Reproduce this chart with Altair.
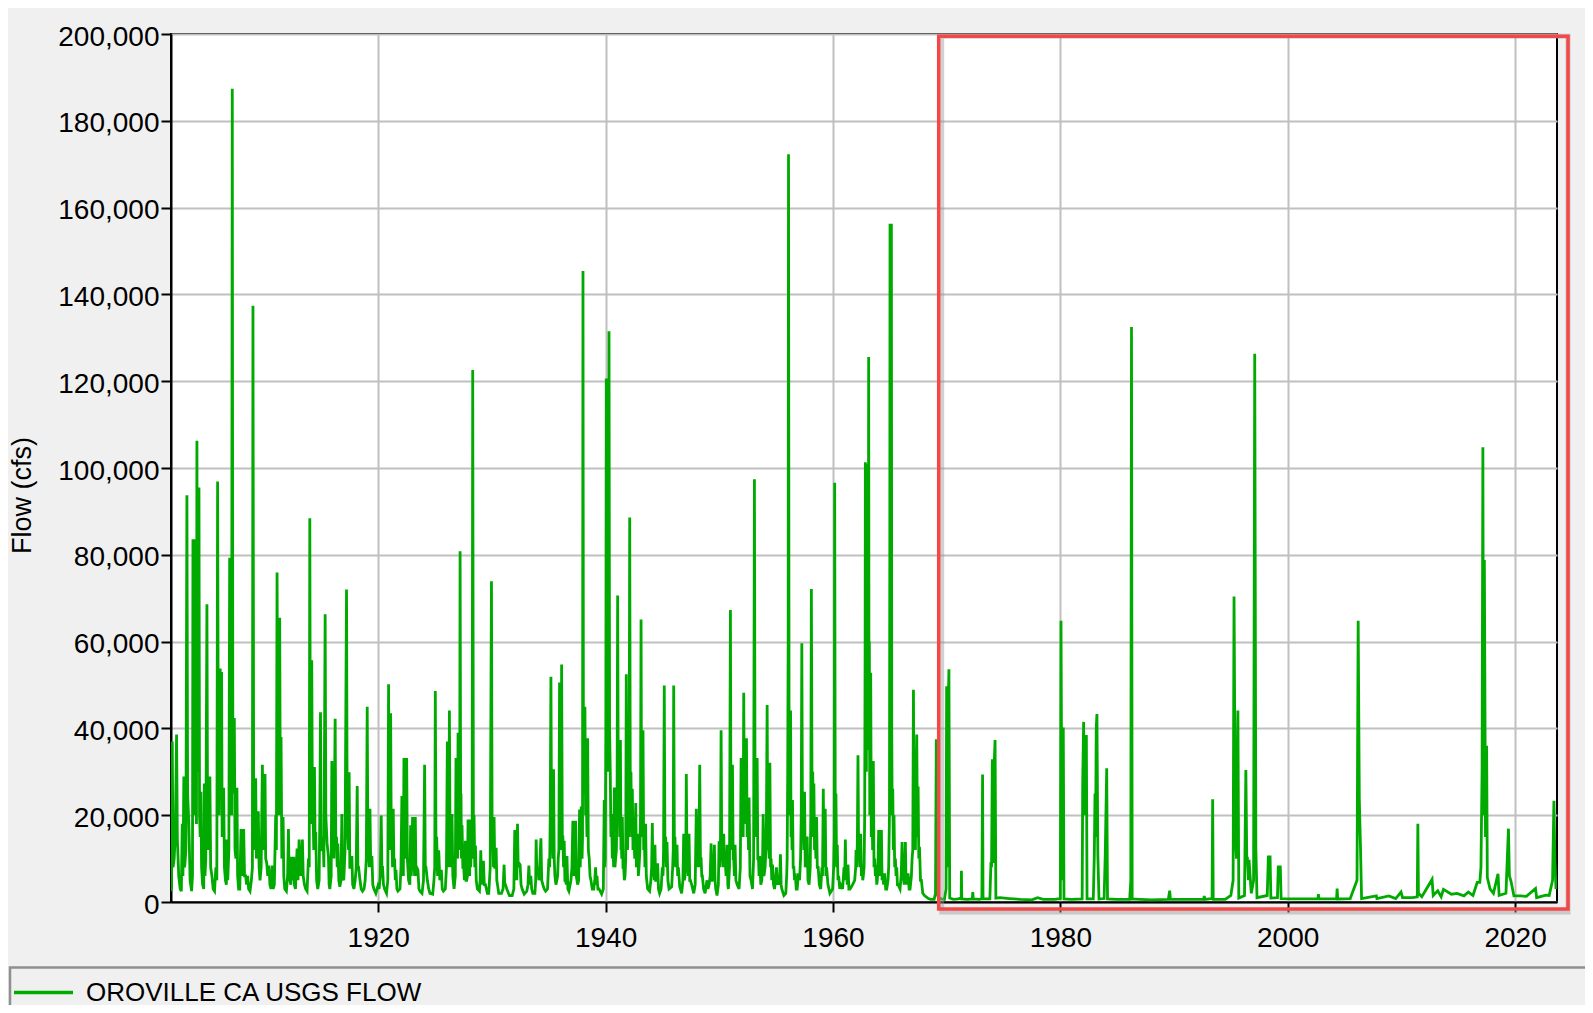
import altair as alt
import pandas as pd

SERIES = "OROVILLE CA USGS FLOW"
x_ticks = [1920, 1940, 1960, 1980, 2000, 2020]
y_ticks = [0, 20000, 40000, 60000, 80000, 100000, 120000, 140000, 160000, 180000, 200000]
x_domain = [1901.77, 2023.69]
y_domain = [0, 200000]
annot_x = [1969.30, 2024.66]
annot_y = [-1600, 199500]

pts_1902_1915 = [
    (1901.77, 2500), (1901.82, 3500), (1901.88, 37000), (1901.95, 8000), (1902.05, 10000), (1902.15, 16000),
    (1902.26, 38600), (1902.33, 14400), (1902.45, 6000), (1902.58, 3000), (1902.68, 2500), (1902.76, 18000),
    (1902.82, 6000), (1902.9, 28900), (1902.97, 8000), (1903.08, 12000), (1903.17, 93700), (1903.23, 25000),
    (1903.34, 18000), (1903.45, 5000), (1903.58, 2500), (1903.66, 6000), (1903.7, 83600), (1903.75, 30000),
    (1903.79, 45000), (1903.83, 20000), (1903.87, 83600), (1903.92, 25000), (1903.98, 50000), (1904.01, 18000),
    (1904.05, 106300), (1904.1, 40000), (1904.14, 55000), (1904.19, 30000), (1904.23, 95500), (1904.28, 20000),
    (1904.34, 15000), (1904.4, 25400), (1904.46, 8000), (1904.55, 4000), (1904.65, 3000), (1904.7, 27300),
    (1904.76, 6000), (1904.83, 10000), (1904.93, 68600), (1904.99, 15000), (1905.07, 12000), (1905.19, 28900),
    (1905.26, 8000), (1905.37, 6000), (1905.48, 3000), (1905.6, 2500), (1905.72, 8000), (1905.8, 5000),
    (1905.87, 96900), (1905.93, 30000), (1906.0, 20000), (1906.1, 53800), (1906.15, 25000), (1906.22, 53000),
    (1906.27, 15000), (1906.32, 18000), (1906.4, 26300), (1906.47, 8000), (1906.56, 5000), (1906.64, 4000),
    (1906.69, 14400), (1906.76, 5000), (1906.86, 12000), (1906.93, 79300), (1906.99, 30000), (1907.05, 40000),
    (1907.1, 20000), (1907.16, 187400), (1907.21, 30000), (1907.27, 25000), (1907.34, 42400), (1907.4, 12000),
    (1907.48, 10000), (1907.57, 26300), (1907.63, 6000), (1907.72, 3000), (1907.82, 3000), (1907.93, 16800),
    (1907.99, 8000), (1908.06, 6000), (1908.16, 16800), (1908.24, 6000), (1908.34, 6000), (1908.42, 4000),
    (1908.51, 6000), (1908.6, 3000), (1908.72, 2500), (1908.84, 5000), (1908.93, 8000), (1908.98, 137400),
    (1909.04, 25000), (1909.1, 20000), (1909.16, 12000), (1909.22, 28500), (1909.28, 10000), (1909.36, 12000),
    (1909.45, 20900), (1909.52, 8000), (1909.6, 5000), (1909.7, 8000), (1909.81, 31600), (1909.87, 15000),
    (1909.94, 12000), (1910.04, 29500), (1910.1, 10000), (1910.19, 9000), (1910.28, 6000), (1910.39, 8400),
    (1910.47, 4000), (1910.57, 3000), (1910.69, 8400), (1910.76, 3000), (1910.86, 4000), (1910.98, 20000),
    (1911.04, 12000), (1911.1, 75900), (1911.16, 30000), (1911.22, 35000), (1911.28, 20000), (1911.33, 65500),
    (1911.39, 20000), (1911.45, 38000), (1911.52, 10000), (1911.63, 19600), (1911.69, 6000), (1911.78, 3000),
    (1911.92, 2500), (1912.03, 6000), (1912.1, 16800), (1912.16, 6000), (1912.24, 5000), (1912.31, 4000),
    (1912.39, 10400), (1912.45, 5000), (1912.57, 10400), (1912.62, 4000), (1912.72, 3000), (1912.86, 12300),
    (1912.94, 5000), (1913.04, 14400), (1913.1, 8000), (1913.18, 6000), (1913.33, 14400), (1913.4, 6000),
    (1913.51, 4000), (1913.62, 3000), (1913.74, 2500), (1913.86, 10000), (1913.93, 8000), (1913.98, 88400),
    (1914.03, 25000), (1914.07, 30000), (1914.11, 18000), (1914.15, 55700), (1914.21, 20000), (1914.27, 20000),
    (1914.33, 12000), (1914.39, 31100), (1914.45, 12000), (1914.5, 16100), (1914.58, 5000), (1914.68, 3000),
    (1914.8, 5000), (1914.86, 20000), (1914.92, 43700), (1914.98, 12000), (1915.05, 12000), (1915.15, 15000),
    (1915.22, 8000), (1915.33, 66300), (1915.39, 20000), (1915.5, 13500),
]

pts_1915_1930 = [
    (1915.62, 10400), (1915.68, 4000), (1915.74, 3000), (1915.86, 6000), (1915.92, 32500), (1915.98, 12000),
    (1916.05, 20000), (1916.1, 10000), (1916.21, 42200), (1916.27, 12000), (1916.33, 15000), (1916.39, 8000),
    (1916.45, 13500), (1916.53, 5000), (1916.62, 3500), (1916.72, 5000), (1916.8, 20300), (1916.86, 6000),
    (1916.97, 5000), (1917.08, 12000), (1917.21, 72000), (1917.27, 15000), (1917.33, 15000), (1917.39, 12000),
    (1917.44, 29900), (1917.5, 8000), (1917.56, 8000), (1917.68, 10600), (1917.75, 4000), (1917.86, 3000),
    (1917.97, 5000), (1918.06, 8000), (1918.15, 26700), (1918.21, 8000), (1918.27, 8000), (1918.38, 5400),
    (1918.5, 3000), (1918.62, 2500), (1918.75, 3000), (1918.85, 5000), (1918.95, 10000), (1919.03, 45000),
    (1919.09, 12000), (1919.15, 12000), (1919.21, 8000), (1919.27, 21500), (1919.34, 8000), (1919.44, 10600),
    (1919.52, 4000), (1919.62, 3000), (1919.79, 2000), (1919.97, 3700), (1920.08, 3000), (1920.18, 6000),
    (1920.26, 19900), (1920.32, 8000), (1920.38, 8000), (1920.46, 4000), (1920.56, 3000), (1920.73, 2000),
    (1920.84, 5000), (1920.91, 50200), (1920.96, 15000), (1921.0, 20000), (1921.04, 12000), (1921.09, 43500),
    (1921.15, 12000), (1921.2, 15000), (1921.26, 8000), (1921.32, 21500), (1921.38, 8000), (1921.44, 10000),
    (1921.5, 5000), (1921.56, 7400), (1921.64, 3000), (1921.73, 2500), (1921.91, 3000), (1922.0, 8000),
    (1922.08, 24400), (1922.13, 8000), (1922.17, 10000), (1922.21, 6000), (1922.26, 33200), (1922.32, 12000),
    (1922.38, 15000), (1922.44, 10000), (1922.5, 33200), (1922.56, 10000), (1922.67, 5000), (1922.78, 4000),
    (1922.85, 17700), (1922.9, 6000), (1922.94, 8000), (1923.02, 19600), (1923.08, 8000), (1923.14, 10000),
    (1923.2, 6000), (1923.26, 19600), (1923.32, 6000), (1923.38, 8000), (1923.49, 7400), (1923.58, 3000),
    (1923.67, 2500), (1923.85, 2000), (1923.98, 5000), (1924.08, 31600), (1924.14, 8000), (1924.2, 8000),
    (1924.32, 5000), (1924.44, 3000), (1924.55, 2000), (1924.79, 1800), (1924.9, 5000), (1924.97, 8000),
    (1925.02, 48600), (1925.08, 12000), (1925.14, 15000), (1925.22, 6000), (1925.32, 11900), (1925.42, 5000),
    (1925.55, 7400), (1925.63, 3000), (1925.73, 2500), (1925.9, 3000), (1926.0, 8000), (1926.08, 37000),
    (1926.13, 10000), (1926.17, 12000), (1926.21, 8000), (1926.26, 44100), (1926.32, 12000), (1926.37, 15000),
    (1926.43, 8000), (1926.49, 20300), (1926.56, 6000), (1926.67, 3000), (1926.78, 6000), (1926.84, 33200),
    (1926.89, 10000), (1926.93, 15000), (1926.98, 10000), (1927.02, 39000), (1927.07, 12000), (1927.11, 20000),
    (1927.16, 12000), (1927.2, 80800), (1927.25, 20000), (1927.28, 25000), (1927.32, 10000), (1927.37, 17700),
    (1927.44, 8000), (1927.52, 8000), (1927.58, 5000), (1927.66, 14100), (1927.72, 5000), (1927.78, 5000),
    (1927.85, 6000), (1927.9, 19000), (1927.95, 8000), (1927.99, 10000), (1928.04, 6000), (1928.08, 19000),
    (1928.13, 8000), (1928.19, 12000), (1928.26, 10000), (1928.31, 122600), (1928.37, 18000), (1928.43, 20000),
    (1928.49, 8000), (1928.55, 13000), (1928.62, 5000), (1928.72, 3000), (1928.9, 2500), (1928.96, 5000),
    (1929.02, 11900), (1929.08, 5000), (1929.13, 5000), (1929.19, 4000), (1929.25, 9500), (1929.33, 4000),
    (1929.43, 4000), (1929.6, 2000), (1929.72, 2000), (1929.85, 8000), (1929.96, 73900), (1930.02, 12000),
]

pts_1930_1943 = [
    (1930.08, 15000), (1930.14, 8000), (1930.19, 19600), (1930.25, 8000), (1930.28, 8000), (1930.37, 12500),
    (1930.43, 5000), (1930.49, 4000), (1930.6, 2000), (1930.84, 2000), (1930.98, 3000), (1931.07, 8600),
    (1931.13, 4000), (1931.19, 4000), (1931.31, 3000), (1931.54, 1500), (1931.78, 1500), (1931.93, 3000),
    (1932.01, 16600), (1932.07, 6000), (1932.13, 8000), (1932.19, 5000), (1932.25, 18000), (1932.31, 8000),
    (1932.37, 9000), (1932.48, 8600), (1932.56, 4000), (1932.66, 3000), (1932.84, 1800), (1933.07, 2500),
    (1933.17, 4000), (1933.25, 8400), (1933.32, 4000), (1933.42, 6000), (1933.5, 3000), (1933.6, 2000),
    (1933.78, 2000), (1933.85, 5000), (1933.89, 14400), (1933.96, 6000), (1934.07, 8000), (1934.13, 5000),
    (1934.2, 8000), (1934.31, 14700), (1934.38, 5000), (1934.48, 4000), (1934.6, 3000), (1934.72, 2500),
    (1934.89, 3000), (1935.01, 10000), (1935.08, 8000), (1935.13, 20000), (1935.19, 51900), (1935.24, 20000),
    (1935.3, 15000), (1935.36, 10000), (1935.42, 30600), (1935.48, 10000), (1935.54, 6000), (1935.63, 4000),
    (1935.71, 5000), (1935.78, 6000), (1935.83, 10000), (1935.89, 12000), (1935.95, 50600), (1936.0, 15000),
    (1936.04, 20000), (1936.09, 12000), (1936.13, 54700), (1936.19, 15000), (1936.24, 15000), (1936.3, 8000),
    (1936.36, 14100), (1936.42, 5000), (1936.48, 5000), (1936.54, 4000), (1936.6, 10600), (1936.68, 3000),
    (1936.77, 2500), (1936.95, 5000), (1937.04, 8000), (1937.12, 18700), (1937.18, 6000), (1937.24, 8000),
    (1937.3, 6000), (1937.36, 18700), (1937.42, 6000), (1937.54, 4000), (1937.63, 5000), (1937.71, 21300),
    (1937.77, 8000), (1937.86, 22000), (1937.93, 10000), (1937.97, 15000), (1938.01, 145400), (1938.05, 30000),
    (1938.09, 40000), (1938.14, 25000), (1938.18, 45000), (1938.24, 20000), (1938.3, 25000), (1938.36, 15000),
    (1938.42, 37700), (1938.48, 12000), (1938.56, 10000), (1938.63, 6000), (1938.71, 5000), (1938.83, 3000),
    (1938.95, 3000), (1939.05, 5000), (1939.12, 8000), (1939.18, 4000), (1939.24, 6000), (1939.32, 3000),
    (1939.42, 3000), (1939.65, 1800), (1939.8, 3000), (1939.88, 23500), (1939.93, 8000), (1939.97, 10000),
    (1940.02, 40000), (1940.06, 120600), (1940.1, 40000), (1940.14, 70000), (1940.18, 50000), (1940.22, 30000),
    (1940.26, 60000), (1940.3, 131500), (1940.35, 40000), (1940.41, 30000), (1940.47, 15000), (1940.53, 20300),
    (1940.59, 10000), (1940.65, 12000), (1940.71, 8000), (1940.77, 26400), (1940.82, 8000), (1940.88, 10000),
    (1940.95, 12000), (1941.01, 25000), (1941.06, 70600), (1941.12, 20000), (1941.18, 30000), (1941.24, 15000),
    (1941.3, 37300), (1941.35, 12000), (1941.38, 15000), (1941.42, 10000), (1941.47, 19600), (1941.53, 8000),
    (1941.59, 8000), (1941.65, 5000), (1941.71, 6000), (1941.77, 10000), (1941.82, 52500), (1941.88, 15000),
    (1941.93, 12000), (1941.97, 20000), (1942.03, 15000), (1942.07, 25000), (1942.12, 88600), (1942.17, 25000),
    (1942.23, 30000), (1942.29, 15000), (1942.35, 26100), (1942.41, 12000), (1942.5, 15000), (1942.56, 10000),
    (1942.65, 22800), (1942.71, 8000), (1942.76, 10000), (1942.82, 15700), (1942.88, 6000), (1942.94, 8000),
    (1943.02, 12000), (1943.07, 20000), (1943.12, 65100), (1943.16, 20000), (1943.2, 25000), (1943.25, 15000),
    (1943.29, 39600), (1943.35, 12000), (1943.41, 15000), (1943.46, 8000), (1943.52, 18000),
]

pts_1943_1957 = [
    (1943.58, 6000), (1943.7, 3000), (1943.87, 2500), (1943.98, 5000), (1944.05, 8000), (1944.11, 18200),
    (1944.16, 6000), (1944.22, 8000), (1944.28, 5000), (1944.34, 13200), (1944.4, 5000), (1944.46, 5000),
    (1944.58, 8900), (1944.65, 3000), (1944.75, 2000), (1944.88, 3000), (1944.99, 8000), (1945.05, 6000),
    (1945.1, 12000), (1945.16, 49900), (1945.22, 12000), (1945.28, 15000), (1945.34, 8000), (1945.4, 13800),
    (1945.48, 5000), (1945.58, 3000), (1945.81, 3500), (1945.9, 8000), (1945.95, 12000), (1945.99, 49900),
    (1946.05, 12000), (1946.1, 15000), (1946.16, 8000), (1946.22, 10000), (1946.28, 13200), (1946.34, 6000),
    (1946.4, 8000), (1946.52, 3500), (1946.69, 2000), (1946.8, 5000), (1946.87, 15700), (1946.93, 5000),
    (1946.99, 6000), (1947.05, 8000), (1947.1, 29500), (1947.16, 8000), (1947.22, 10000), (1947.28, 6000),
    (1947.34, 15700), (1947.4, 5000), (1947.46, 5000), (1947.57, 4000), (1947.75, 2000), (1947.88, 4000),
    (1947.98, 21500), (1948.04, 8000), (1948.13, 12000), (1948.2, 8000), (1948.28, 31600), (1948.34, 10000),
    (1948.4, 10000), (1948.46, 6000), (1948.51, 6000), (1948.62, 3000), (1948.75, 2000), (1948.92, 5000),
    (1949.0, 3000), (1949.1, 4000), (1949.2, 6000), (1949.28, 13500), (1949.34, 5000), (1949.39, 5000),
    (1949.5, 6000), (1949.57, 13200), (1949.63, 5000), (1949.69, 3000), (1949.8, 1500), (1949.92, 4000),
    (1949.98, 14000), (1950.05, 8000), (1950.1, 12000), (1950.16, 39600), (1950.22, 10000), (1950.28, 12000),
    (1950.34, 8000), (1950.39, 15700), (1950.45, 8000), (1950.51, 10000), (1950.6, 6000), (1950.69, 13200),
    (1950.75, 4000), (1950.8, 3000), (1950.9, 8000), (1950.98, 67300), (1951.03, 15000), (1951.07, 20000),
    (1951.12, 12000), (1951.16, 31600), (1951.22, 10000), (1951.27, 10000), (1951.33, 6000), (1951.39, 13200),
    (1951.46, 5000), (1951.57, 4000), (1951.74, 3000), (1951.85, 8000), (1951.92, 33200), (1951.98, 15000),
    (1952.04, 25000), (1952.1, 15000), (1952.15, 48200), (1952.21, 20000), (1952.27, 30000), (1952.33, 18000),
    (1952.39, 37700), (1952.45, 15000), (1952.51, 20000), (1952.57, 12000), (1952.62, 24100), (1952.7, 6000),
    (1952.8, 5000), (1952.92, 3000), (1953.02, 10000), (1953.09, 97400), (1953.15, 20000), (1953.21, 25000),
    (1953.27, 15000), (1953.33, 33200), (1953.39, 10000), (1953.45, 10000), (1953.5, 6000), (1953.56, 10600),
    (1953.65, 4000), (1953.74, 5000), (1953.8, 8000), (1953.86, 20300), (1953.93, 6000), (1954.03, 8000),
    (1954.1, 12000), (1954.15, 20000), (1954.21, 45400), (1954.27, 12000), (1954.33, 15000), (1954.39, 10000),
    (1954.45, 32100), (1954.51, 8000), (1954.56, 10000), (1954.62, 5000), (1954.68, 8600), (1954.77, 4000),
    (1954.86, 3000), (1954.95, 5000), (1955.03, 8000), (1955.12, 4000), (1955.21, 5000), (1955.3, 4000),
    (1955.38, 11000), (1955.44, 4000), (1955.5, 3000), (1955.68, 1500), (1955.85, 2000), (1955.93, 6000),
    (1955.97, 10000), (1956.02, 30000), (1956.06, 60000), (1956.09, 172300), (1956.14, 30000), (1956.18, 40000),
    (1956.22, 20000), (1956.27, 44100), (1956.31, 15000), (1956.35, 20000), (1956.4, 12000), (1956.44, 23500),
    (1956.5, 8000), (1956.56, 8000), (1956.62, 5000), (1956.68, 6600), (1956.77, 3000), (1956.85, 3000),
    (1956.97, 6600), (1957.06, 5000), (1957.15, 10000), (1957.21, 20000), (1957.26, 59600), (1957.32, 15000),
    (1957.38, 20000), (1957.44, 12000), (1957.5, 25400), (1957.56, 8000), (1957.62, 10000),
]

pts_1957_1969 = [
    (1957.73, 15100), (1957.8, 5000), (1957.9, 4000), (1958.0, 8000), (1958.05, 20000), (1958.1, 72100),
    (1958.16, 25000), (1958.22, 30000), (1958.27, 15000), (1958.32, 27300), (1958.38, 12000), (1958.44, 15000),
    (1958.5, 10000), (1958.56, 19600), (1958.62, 8000), (1958.7, 8000), (1958.8, 4000), (1958.92, 3000),
    (1959.03, 8000), (1959.08, 6000), (1959.15, 26100), (1959.2, 10000), (1959.24, 12000), (1959.28, 8000),
    (1959.32, 21500), (1959.38, 6000), (1959.44, 8000), (1959.56, 4000), (1959.73, 2000), (1959.97, 3000),
    (1960.06, 8000), (1960.11, 15000), (1960.15, 96600), (1960.2, 20000), (1960.26, 25000), (1960.32, 8000),
    (1960.38, 13200), (1960.44, 5000), (1960.5, 6000), (1960.6, 3000), (1960.67, 4000), (1960.85, 3000),
    (1960.97, 8000), (1961.03, 5000), (1961.09, 14400), (1961.15, 5000), (1961.2, 6000), (1961.26, 4000),
    (1961.32, 8600), (1961.4, 3000), (1961.5, 3000), (1961.73, 4000), (1961.91, 5000), (1962.0, 8000),
    (1962.03, 12000), (1962.1, 8000), (1962.15, 15000), (1962.2, 33800), (1962.26, 10000), (1962.32, 12000),
    (1962.38, 8000), (1962.44, 15700), (1962.5, 6000), (1962.55, 8600), (1962.62, 5000), (1962.67, 6000),
    (1962.74, 8000), (1962.79, 20000), (1962.83, 60000), (1962.85, 101300), (1962.88, 40000), (1962.91, 60000),
    (1962.94, 30000), (1962.97, 100000), (1963.0, 40000), (1963.02, 70000), (1963.05, 35000), (1963.08, 101000),
    (1963.11, 50000), (1963.14, 125600), (1963.17, 40000), (1963.2, 60000), (1963.24, 20000), (1963.28, 30000),
    (1963.32, 52800), (1963.37, 15000), (1963.43, 25000), (1963.49, 12000), (1963.55, 32500), (1963.61, 8000),
    (1963.67, 10000), (1963.73, 6000), (1963.79, 8600), (1963.85, 4000), (1963.9, 5000), (1963.96, 8000),
    (1964.02, 16600), (1964.08, 6000), (1964.14, 8000), (1964.2, 6000), (1964.26, 16600), (1964.32, 5000),
    (1964.37, 6000), (1964.46, 4000), (1964.55, 6600), (1964.64, 3000), (1964.73, 3000), (1964.84, 5000),
    (1964.9, 8000), (1964.97, 20000), (1965.0, 80000), (1965.02, 156300), (1965.05, 60000), (1965.08, 40000),
    (1965.11, 90000), (1965.14, 156300), (1965.17, 40000), (1965.21, 20000), (1965.26, 26100), (1965.31, 12000),
    (1965.37, 20000), (1965.43, 8000), (1965.49, 10000), (1965.55, 6000), (1965.61, 8000), (1965.67, 4000),
    (1965.73, 4000), (1965.9, 3000), (1966.0, 6000), (1966.08, 13800), (1966.14, 5000), (1966.2, 6000),
    (1966.26, 4000), (1966.32, 8000), (1966.37, 13800), (1966.43, 4000), (1966.49, 5000), (1966.55, 4000),
    (1966.61, 6600), (1966.7, 3000), (1966.78, 3000), (1966.9, 6000), (1966.96, 10000), (1967.02, 12000),
    (1967.08, 48900), (1967.14, 15000), (1967.19, 20000), (1967.25, 12000), (1967.31, 25000), (1967.37, 38600),
    (1967.43, 15000), (1967.49, 26600), (1967.55, 10000), (1967.61, 12700), (1967.7, 5000), (1967.78, 5000),
    (1967.9, 2000), (1968.05, 1500), (1968.2, 1200), (1968.4, 800), (1968.6, 600), (1968.9, 600), (1969.02, 2000),
]

pts_1969_2023 = [
    (1969.09, 37500), (1969.14, 2800), (1969.25, 1200), (1969.5, 700), (1969.8, 600), (1969.95, 3000),
    (1970.0, 49700), (1970.05, 8000), (1970.1, 15000), (1970.14, 45000), (1970.2, 53600), (1970.27, 900),
    (1970.6, 600), (1971.0, 700), (1971.28, 900), (1971.3, 7200), (1971.33, 700), (1971.8, 600),
    (1972.26, 700), (1972.3, 2300), (1972.34, 700), (1972.9, 600), (1973.1, 800), (1973.16, 29400),
    (1973.2, 700), (1973.8, 700), (1973.9, 9200), (1973.95, 8000), (1974.02, 32900), (1974.08, 9000),
    (1974.14, 30000), (1974.2, 33000), (1974.26, 37300), (1974.33, 900), (1974.7, 1000), (1975.5, 800),
    (1976.5, 600), (1977.5, 500), (1978.0, 1000), (1978.5, 600), (1979.5, 600), (1980.0, 800),
    (1980.06, 64800), (1980.15, 5000), (1980.2, 20000), (1980.26, 40200), (1980.32, 700), (1981.0, 600),
    (1981.92, 700), (1981.97, 27700), (1982.05, 41500), (1982.1, 20000), (1982.15, 30000), (1982.22, 35000),
    (1982.29, 38500), (1982.35, 700), (1982.9, 700), (1982.99, 10800), (1983.05, 25000), (1983.1, 15000),
    (1983.16, 40000), (1983.22, 43300), (1983.3, 10800), (1983.4, 700), (1983.85, 800), (1983.95, 10800),
    (1984.08, 30800), (1984.15, 700), (1985.0, 600), (1986.1, 600), (1986.2, 5000), (1986.26, 132500),
    (1986.32, 700), (1987.0, 600), (1988.0, 500), (1989.5, 600), (1989.62, 2600), (1989.68, 600),
    (1991.0, 600), (1992.62, 600), (1992.66, 1400), (1992.7, 600), (1993.35, 800), (1993.4, 23700),
    (1993.45, 600), (1994.5, 600), (1995.0, 1500), (1995.2, 5000), (1995.28, 70400), (1995.4, 15000),
    (1995.5, 10000), (1995.62, 44100), (1995.7, 900), (1996.2, 1500), (1996.32, 30400), (1996.4, 10000),
    (1996.45, 10400), (1996.55, 5000), (1996.6, 9700), (1996.8, 2000), (1997.0, 5000), (1997.1, 126300),
    (1997.2, 12400), (1997.3, 1000), (1998.2, 1500), (1998.3, 10400), (1998.45, 10400), (1998.52, 900),
    (1999.1, 1000), (1999.17, 8100), (1999.35, 8100), (1999.42, 800), (2000.5, 700), (2002.66, 700),
    (2002.7, 1800), (2002.75, 700), (2004.3, 700), (2004.35, 3100), (2004.4, 700), (2005.5, 800),
    (2006.1, 5000), (2006.2, 64800), (2006.3, 23500), (2006.4, 13100), (2006.5, 800), (2007.8, 1400),
    (2007.85, 800), (2008.9, 1400), (2009.5, 800), (2009.97, 2300), (2010.1, 1000), (2011.0, 1000),
    (2011.4, 1200), (2011.45, 18000), (2011.5, 2000), (2011.8, 1200), (2012.7, 5200), (2012.8, 1500),
    (2013.2, 2600), (2013.5, 1200), (2013.7, 2900), (2014.4, 1800), (2014.9, 2000), (2015.5, 1400),
    (2015.9, 2300), (2016.3, 1500), (2016.67, 4500), (2016.9, 4500), (2017.0, 8000), (2017.1, 30000),
    (2017.17, 104800), (2017.23, 20000), (2017.3, 78800), (2017.4, 15000), (2017.5, 36000), (2017.56, 5700),
    (2017.8, 3000), (2018.1, 2000), (2018.5, 6500), (2018.6, 1500), (2019.2, 2000), (2019.42, 16900),
    (2019.5, 6100), (2019.65, 4700), (2019.9, 1400), (2020.5, 1400), (2021.0, 1300), (2021.8, 3100),
    (2021.9, 1000), (2022.7, 1600), (2023.0, 1500), (2023.3, 5000), (2023.42, 23300), (2023.5, 9700),
    (2023.6, 3000), (2023.65, 5000), (2023.69, 4000),
]

points = pts_1902_1915 + pts_1915_1930 + pts_1930_1943 + pts_1943_1957 + pts_1957_1969 + pts_1969_2023
df = pd.DataFrame(points, columns=["year", "flow"])
df["series"] = SERIES

FONT = "Liberation Sans"
GREEN = "#00aa00"

xs = alt.Scale(domain=x_domain, nice=False, zero=False)
ys = alt.Scale(domain=y_domain, nice=False)

x_axis = alt.Axis(
    values=x_ticks, format="d", title=None, grid=True, gridColor="#c0c0c0", gridWidth=2,
    tickSize=10, tickWidth=2, tickColor="black", domainColor="black", domainWidth=2,
    labelFont=FONT, labelFontSize=28, labelColor="black", labelPadding=12,
)
y_axis = alt.Axis(
    values=y_ticks, format=",d", title="Flow (cfs)", grid=True, gridColor="#c0c0c0", gridWidth=2,
    tickSize=10, tickWidth=2, tickColor="black", domainColor="black", domainWidth=2,
    labelFont=FONT, labelFontSize=28, labelColor="black", labelPadding=2, labelOffset=3,
    titleFont=FONT, titleFontSize=27, titleFontWeight="normal", titleColor="black",
    titleAngle=270, titleAlign="center", titleBaseline="middle", titleX=-149, titleY=461,
)

line = alt.Chart(df).mark_line(strokeWidth=2.8, clip=True).encode(
    x=alt.X("year:Q", scale=xs, axis=x_axis),
    y=alt.Y("flow:Q", scale=ys, axis=y_axis),
    color=alt.Color(
        "series:N",
        scale=alt.Scale(range=[GREEN]),
        legend=alt.Legend(
            title=None, orient="none", legendX=-159, legendY=927, padding=0,
            labelFont=FONT, labelFontSize=26, labelColor="black", labelOffset=11, labelLimit=600,
            symbolType="stroke", symbolSize=3481, symbolStrokeWidth=3.5,
        ),
    ),
)

annot_df = pd.DataFrame({"x1": [annot_x[0]], "x2": [annot_x[1]], "y1": [annot_y[0]], "y2": [annot_y[1]]})
shadow = alt.Chart(annot_df).mark_rect(
    fillOpacity=0, stroke="#9a9a9a", strokeOpacity=0.45, strokeWidth=5, clip=False, xOffset=3, yOffset=3
).encode(
    x=alt.X("x1:Q", scale=xs, axis=x_axis), x2="x2",
    y=alt.Y("y1:Q", scale=ys, axis=y_axis), y2="y2",
)
red_box = alt.Chart(annot_df).mark_rect(
    fillOpacity=0, stroke="#f44848", strokeWidth=3.5, clip=False
).encode(
    x=alt.X("x1:Q", scale=xs, axis=x_axis), x2="x2",
    y=alt.Y("y1:Q", scale=ys, axis=y_axis), y2="y2",
)

frame_df = pd.DataFrame({"k": [0]})
legend_frame = alt.Chart(frame_df).mark_rect(
    fillOpacity=0, stroke="#8f8f8f", strokeWidth=2.5, clip=False
).encode(
    x=alt.value(-161), x2=alt.value(1600), y=alt.value(933.5), y2=alt.value(1200)
)

chart = alt.layer(legend_frame, line, shadow, red_box).properties(
    width=1386, height=868,
    autosize=alt.AutoSizeParams(type="none"),
    padding={"left": 163, "top": 26, "right": 28, "bottom": 103},
).configure(background="#f0f0f0").configure_view(stroke="black", strokeWidth=2, fill="white")

chart.save("out.html", embed_options={"renderer": "svg", "actions": False})
